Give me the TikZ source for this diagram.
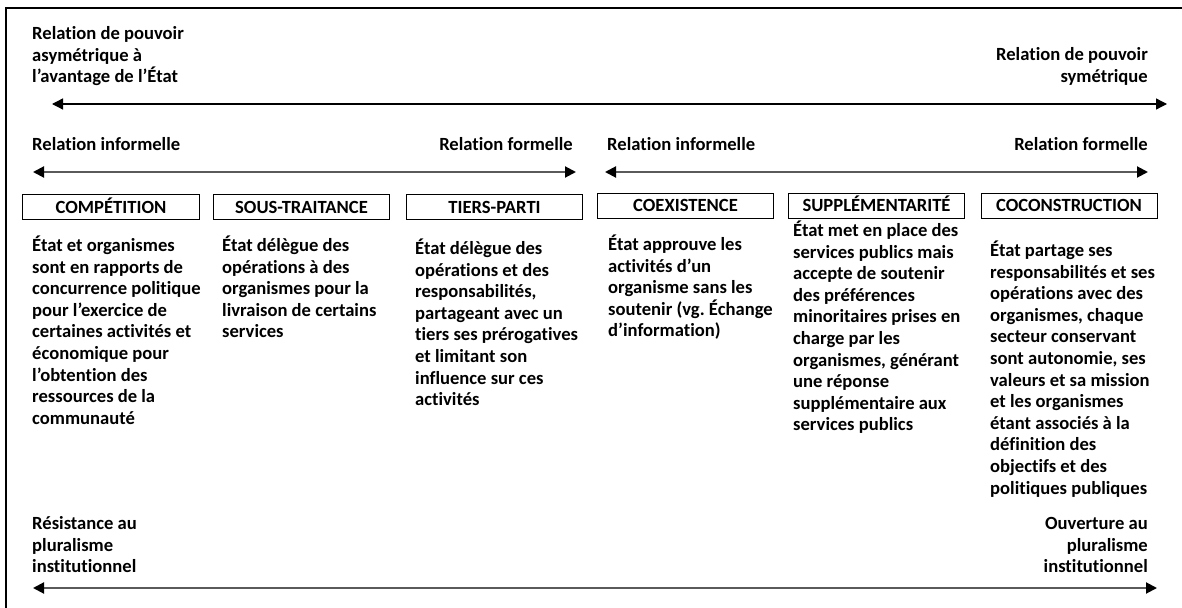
\documentclass[tikz,border=0pt]{standalone}
\usepackage{fontspec}
\setmainfont{Carlito}[Ligatures=NoCommon]
\frenchspacing
\usetikzlibrary{arrows.meta}
\definecolor{arrgray}{RGB}{90,90,90}
\tikzset{
  lbl/.style={font=\fontsize{18.6bp}{21.6bp}\selectfont\bfseries, inner sep=0pt},
  lblL/.style={lbl, align=left, anchor=base west},
  lblR/.style={lbl, align=right, anchor=base east},
  hdr/.style={draw=black, line width=1bp, minimum width=176bp, minimum height=25bp, inner sep=0pt, text height=12bp, text depth=0bp, font=\fontsize{18.6bp}{21.6bp}\selectfont\bfseries},
  blackarr/.style={line width=1.3bp, {Triangle[length=11bp,width=11bp]}-{Triangle[length=11bp,width=11bp]}},
  grayarr/.style={draw=arrgray, line width=2bp, {Triangle[length=11bp,width=11bp,color=black]}-{Triangle[length=11bp,width=11bp,color=black]}}
}
\begin{document}
\begin{tikzpicture}[x=1bp,y=-1bp]
\useasboundingbox (0,0) rectangle (1182,608);
% frame
\draw[line width=2bp] (6,608) -- (6,8) -- (1182,8);
% top titles (anchor = baseline of last line)
\node[lblL] (tl) at (32,82.7) {Relation de pouvoir\\asymétrique à\\l’avantage de l’État};
\node[lblR] (tr) at (1148,82.5) {Relation de pouvoir\\symétrique};
\coordinate (a1s) at (52,104);
\coordinate (a1e) at (1167,104);
\draw[blackarr] (a1s) -- (a1e);
% second row labels
\node[lblL] (ri1) at (32,150.5) {Relation informelle};
\node[lblR] (rf1) at (573,150.5) {Relation formelle};
\node[lblL] (ri2) at (607,150.5) {Relation informelle};
\node[lblR] (rf2) at (1148,150.5) {Relation formelle};
\coordinate (a2s) at (33,172);
\coordinate (a2e) at (576,172);
\coordinate (a3s) at (605,172);
\coordinate (a3e) at (1148,172);
\draw[grayarr] (a2s) -- (a2e);
\draw[grayarr] (a3s) -- (a3e);
% headers
\node[hdr] (h1) at (111,207.5) {COMPÉTITION};
\node[hdr] (h2) at (301.5,207.5) {SOUS-TRAITANCE};
\node[hdr] (h3) at (494.5,207.5) {TIERS-PARTI};
\node[hdr] (h4) at (685.5,206) {COEXISTENCE};
\node[hdr] (h5) at (876.5,206) {SUPPLÉMENTARITÉ};
\node[hdr] (h6) at (1069,206) {COCONSTRUCTION};
% bodies (anchor = baseline of last line)
\node[lblL] (b1) at (32,424.3) {État et organismes\\sont en rapports de\\concurrence politique\\pour l’exercice de\\certaines activités et\\économique pour\\l’obtention des\\ressources de la\\communauté};
\node[lblL] (b2) at (222,337.9) {État délègue des\\opérations à des\\organismes pour la\\livraison de certains\\services};
\node[lblL] (b3) at (415,405.7) {État délègue des\\opérations et des\\responsabilités,\\partageant avec un\\tiers ses prérogatives\\et limitant son\\influence sur ces\\activités};
\node[lblL] (b4) at (608,336.9) {État approuve les\\activités d’un\\organisme sans les\\soutenir (vg. Échange\\d’information)};
\node[lblL] (b5) at (793,430.9) {État met en place des\\services publics mais\\accepte de soutenir\\des préférences\\minoritaires prises en\\charge par les\\organismes, générant\\une réponse\\supplémentaire aux\\services publics};
\node[lblL] (b6) at (990,494.1) {État partage ses\\responsabilités et ses\\opérations avec des\\organismes, chaque\\secteur conservant\\sont autonomie, ses\\valeurs et sa mission\\et les organismes\\étant associés à la\\définition des\\objectifs et des\\politiques publiques};
% bottom
\node[lblL] (bl) at (32,572.7) {Résistance au\\pluralisme\\institutionnel};
\node[lblR] (br) at (1148,572.7) {Ouverture au\\pluralisme\\institutionnel};
\coordinate (a4s) at (33,588);
\coordinate (a4e) at (1157,588);
\draw[grayarr] (a4s) -- (a4e);
\end{tikzpicture}
\end{document}
